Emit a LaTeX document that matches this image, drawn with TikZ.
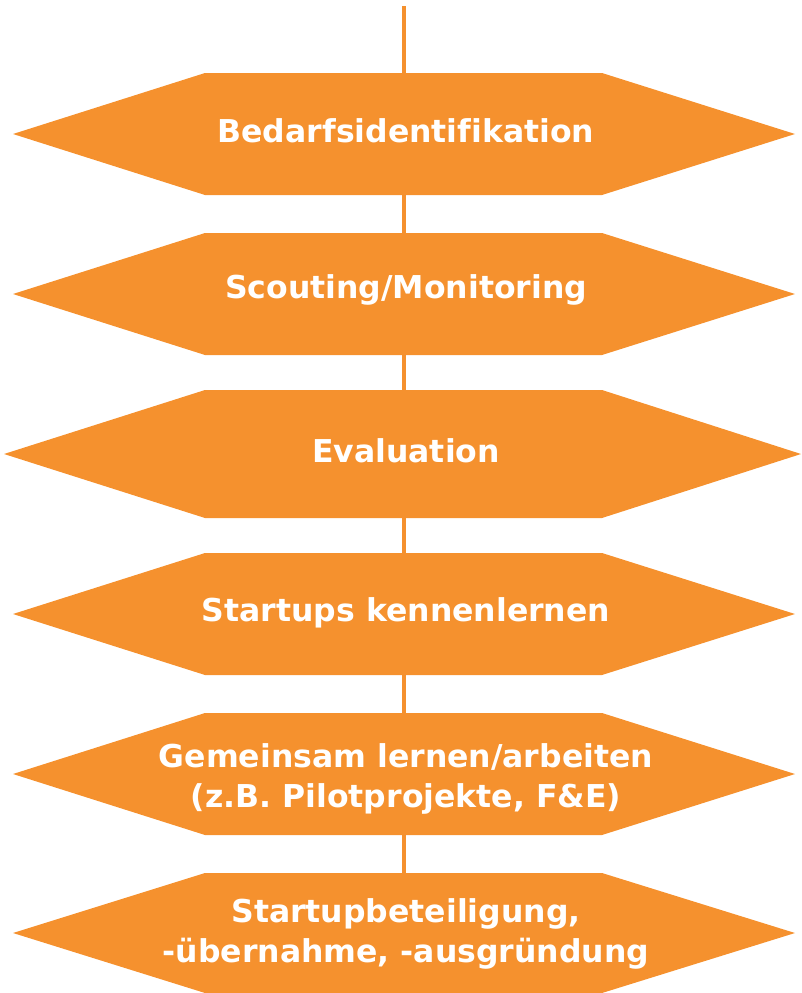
\documentclass[tikz,border=0pt]{standalone}
\usepackage{fontspec}
\setmainfont[Ligatures={NoCommon}]{DejaVu Sans}
\definecolor{hexorange}{HTML}{F5912E}
\tikzset{
  hexlabel/.style={text=white, font=\bfseries\fontsize{31.5}{40}\selectfont, align=center, inner sep=0pt},
  spine/.style={draw=hexorange, line width=4pt}
}
\newcommand{\hexshape}[4]{% left tip x, right tip x, top y, bottom y
  \fill[hexorange] (#1,{(#3+#4)/2}) -- (205,#3) -- (602,#3) -- (#2,{(#3+#4)/2}) -- (602,#4) -- (205,#4) -- cycle;
}
\begin{document}
\begin{tikzpicture}[x=1pt,y=-1pt]
\useasboundingbox (0,0) rectangle (801,993);
\coordinate (top) at (404,6);
\coordinate (bottom) at (404,880);
\draw[spine] (top) -- (bottom);
\hexshape{13}{795}{73}{195}
\hexshape{13}{795}{233}{355}
\hexshape{4}{801}{390}{518}
\hexshape{13}{795}{553}{675}
\hexshape{13}{795}{713}{835}
\hexshape{13}{795}{873}{993}
\node[hexlabel] (h1) at (406,131) {Bedarfsidentifikation};
\node[hexlabel] (h2) at (406,290) {Scouting/Monitoring};
\node[hexlabel] (h3) at (406,451) {Evaluation};
\node[hexlabel] (h4) at (406,613) {Startups kennenlernen};
\node[hexlabel] (h5) at (406,779) {Gemeinsam lernen/arbeiten\\(z.B. Pilotprojekte, F\&E)};
\node[hexlabel] (h6) at (406,934) {Startupbeteiligung,\\-übernahme, -ausgründung};
\end{tikzpicture}
\end{document}
